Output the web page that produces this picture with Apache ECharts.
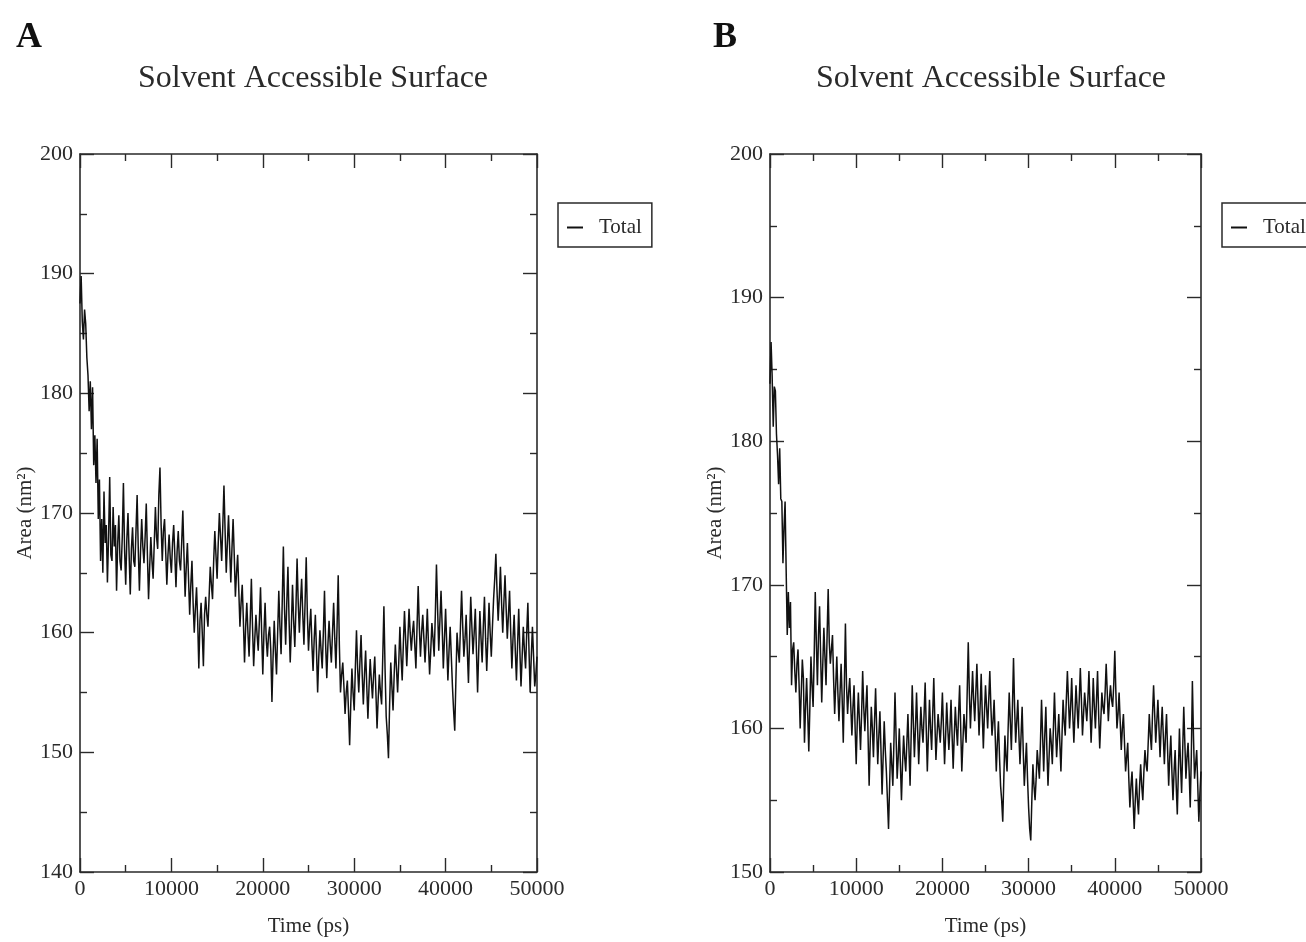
<!DOCTYPE html>
<html>
<head>
<meta charset="utf-8">
<script src="https://cdn.jsdelivr.net/npm/echarts@6/dist/echarts.min.js"></script>
<style>
html,body{margin:0;padding:0;background:#fff;}
#chart{width:1306px;height:942px;}
</style>
</head>
<body>
<div id="chart"></div>
<script>
// ---- data ----
const titleText = 'Solvent Accessible Surface';
const panelLabels = ['A', 'B'];
const seriesName = 'Total';
const xAxisName = 'Time (ps)';
const yAxisName = 'Area (nm²)';
const timeStep = 125; // ps between samples
const xTicks = [0, 10000, 20000, 30000, 40000, 50000];
const yTicksA = [140, 150, 160, 170, 180, 190, 200];
const yTicksB = [150, 160, 170, 180, 190, 200];

// Panel A, one row per 1000 ps (8 samples)
const areaA = [
187.5,189.8,186.0,184.5,187.0,185.8,183.0,181.5,
178.5,181.0,177.0,180.5,174.0,176.5,172.5,176.2,
169.5,172.8,166.0,169.5,165.0,171.8,167.5,169.0,
164.2,168.0,173.0,166.5,166.0,170.5,167.2,169.0,
163.5,167.5,169.8,166.0,165.2,168.0,172.5,167.0,
164.0,167.8,170.0,166.5,163.2,167.0,168.8,166.0,
165.5,168.5,171.5,167.0,163.5,166.8,169.5,167.2,
165.8,168.0,170.8,166.5,162.8,165.5,168.0,166.0,
164.5,167.5,170.5,168.0,167.0,171.5,173.8,169.0,
166.0,168.5,169.5,166.8,164.0,166.5,168.2,166.2,
165.0,167.5,169.0,166.5,163.8,166.8,168.5,166.0,
165.2,167.5,170.2,166.5,163.0,165.5,167.5,164.5,
161.5,164.0,166.0,162.5,160.0,162.0,163.8,161.0,
157.0,161.0,162.5,160.0,157.2,161.5,163.0,161.5,
160.5,163.0,165.5,164.0,162.8,166.0,168.5,166.5,
164.5,167.5,170.0,168.0,166.0,169.0,172.3,168.5,
165.0,167.5,169.8,167.0,164.2,167.0,169.5,166.5,
163.0,165.0,166.5,163.5,160.5,162.5,164.0,161.0,
157.5,160.5,162.5,160.0,158.0,161.0,164.5,160.5,
157.2,159.5,161.5,159.8,158.5,161.0,163.8,160.0,
156.5,160.0,162.5,159.5,158.0,159.8,160.5,158.5,
154.2,158.0,161.0,158.5,156.5,160.0,163.5,160.5,
158.2,162.5,167.2,162.0,159.0,162.5,165.5,161.0,
157.5,160.5,164.0,161.0,158.8,162.0,166.2,162.5,
160.0,162.5,164.5,161.5,159.0,162.5,166.3,161.5,
158.5,160.5,162.0,159.0,156.8,159.5,161.5,158.5,
155.0,158.0,160.2,158.5,157.0,160.0,163.5,159.0,
156.2,159.0,161.0,159.0,157.5,160.0,162.5,159.5,
157.0,160.5,164.8,159.0,155.0,156.5,157.5,155.5,
153.2,155.0,156.0,153.5,150.6,154.0,157.0,155.0,
153.5,157.0,160.2,157.0,155.0,157.5,159.8,156.5,
154.0,156.5,158.5,155.5,152.8,155.5,157.8,156.0,
154.5,156.5,158.0,155.0,152.0,154.5,156.5,155.0,
154.0,158.0,162.2,157.0,153.0,151.5,149.5,154.0,
157.5,155.5,153.5,156.5,159.0,157.0,155.0,157.5,
160.5,158.0,156.0,159.0,161.8,159.5,157.2,159.5,
162.0,160.0,158.5,160.0,161.0,159.0,157.0,160.5,
163.9,160.5,158.0,160.0,161.5,159.5,157.5,159.5,
162.0,159.0,156.5,158.5,160.8,159.5,158.0,161.5,
165.7,162.0,158.5,161.0,163.5,160.5,157.0,159.5,
162.0,159.0,156.0,158.5,160.5,158.0,155.5,153.5,
151.8,156.0,160.0,158.5,157.5,160.5,163.5,160.5,
158.0,159.5,161.5,158.5,155.8,159.5,163.0,160.5,
158.2,160.0,162.0,158.5,155.0,158.5,161.8,159.5,
157.5,160.5,163.0,159.5,156.8,159.5,162.5,160.0,
158.0,160.5,162.8,164.5,166.6,163.5,161.0,163.0,
165.5,162.5,160.0,162.5,164.8,162.0,159.5,161.5,
163.5,160.0,157.0,159.5,161.5,158.5,156.0,159.0,
162.0,158.5,155.5,158.0,160.5,158.5,157.0,160.0,
162.5,158.5,155.0,158.0,160.5,158.0,155.5,156.5,
158.0
];

// Panel B, one row per 1000 ps (8 samples)
const areaB = [
184.0,186.9,184.5,181.0,183.8,183.5,180.5,179.0,
177.0,179.5,176.0,175.8,171.5,174.0,175.8,171.0,
166.5,169.5,167.0,168.8,163.0,165.5,166.0,164.0,
162.5,164.5,165.5,163.0,160.0,162.5,164.8,163.5,
159.0,161.5,163.5,161.0,158.4,161.5,165.0,163.0,
161.5,165.0,169.5,166.0,163.0,166.5,168.5,165.0,
161.8,164.5,167.0,165.0,163.0,166.5,169.7,166.0,
164.5,165.5,166.5,163.5,161.0,163.0,165.0,162.5,
160.5,162.5,164.5,162.0,159.0,163.0,167.3,163.0,
161.0,162.5,163.5,161.5,159.5,161.5,163.0,160.0,
157.5,160.5,162.5,160.5,158.5,161.0,164.0,161.5,
159.8,161.5,163.0,159.5,156.0,159.0,161.5,160.0,
158.0,160.5,162.8,160.0,157.5,159.5,161.2,158.5,
155.4,158.0,160.5,158.5,157.0,155.0,153.0,156.0,
159.0,157.5,156.0,159.0,162.5,159.5,156.5,158.0,
160.0,157.5,155.0,157.5,159.5,158.0,157.0,159.0,
161.0,158.5,156.0,159.5,163.0,160.5,158.0,160.0,
162.5,160.0,157.5,159.5,161.5,160.0,159.0,161.0,
163.2,160.0,157.0,159.5,162.0,160.0,158.5,161.0,
163.5,160.5,157.8,159.5,161.0,160.0,159.0,160.5,
162.5,160.0,157.5,159.5,161.8,160.0,158.5,160.0,
162.0,159.5,157.2,159.5,161.5,160.0,158.8,161.0,
163.0,160.0,157.0,159.0,161.0,160.0,159.0,162.5,
166.0,162.5,160.0,162.0,164.0,162.0,160.5,162.5,
164.5,162.0,159.5,161.5,163.8,161.0,158.6,161.0,
163.0,161.5,160.0,162.0,164.0,161.5,159.5,160.5,
162.0,159.5,157.0,159.0,160.5,158.0,156.0,155.0,
153.5,156.5,159.5,158.0,157.0,160.0,162.5,160.5,
158.5,161.5,164.9,161.5,159.0,160.5,162.0,159.5,
157.5,159.5,161.5,158.5,156.0,157.5,159.0,156.5,
154.5,153.0,152.2,155.0,157.5,156.0,155.0,156.5,
158.5,157.5,156.5,159.0,162.0,159.5,157.0,159.5,
161.5,158.5,156.0,158.0,160.0,159.0,157.5,160.0,
162.5,160.0,158.0,159.5,161.0,159.0,157.0,159.5,
162.0,160.5,159.5,162.0,164.0,162.0,160.0,161.5,
163.5,161.0,159.0,161.0,163.0,161.5,160.0,162.0,
164.2,162.0,159.5,161.0,162.5,161.5,160.5,162.0,
164.0,161.5,159.0,161.0,163.5,161.5,160.0,162.0,
164.0,161.0,158.6,160.5,162.5,161.5,161.0,162.5,
164.5,162.5,160.5,162.0,163.0,162.0,161.5,163.0,
165.4,162.5,160.0,161.0,162.5,160.5,158.5,160.0,
161.0,159.0,157.0,158.0,159.0,156.5,154.5,156.0,
157.0,155.0,153.0,155.0,156.5,155.0,154.0,156.0,
157.5,156.0,155.0,157.0,158.5,157.5,157.0,159.0,
161.0,159.5,158.5,161.0,163.0,161.0,159.0,160.5,
162.0,160.0,158.0,160.0,161.5,159.5,157.5,159.5,
161.0,158.5,156.0,158.0,159.5,157.0,155.0,157.0,
158.5,156.0,154.0,157.0,160.0,157.5,155.5,158.5,
161.5,159.0,156.5,158.0,159.0,157.0,154.5,158.0,
163.3,159.5,156.5,157.5,158.5,156.0,153.5,155.5,
157.0
];

// ---- build chart ----
const FONT = '"Liberation Serif", "Times New Roman", serif';
const INK = '#2a2a2a';
const toPairs = arr => arr.map((v, i) => [i * timeStep, v]);

const grids = [
  {left: 80, top: 154, width: 457, height: 720},
  {left: 770, top: 154, width: 431, height: 720}
];

function xAx(gridIndex, pos, showLabel) {
  return {
    type: 'value', gridIndex, position: pos,
    min: xTicks[0], max: xTicks[xTicks.length - 1], interval: 10000,
    name: showLabel ? xAxisName : '',
    nameLocation: 'middle', nameGap: 44,
    nameTextStyle: {fontFamily: FONT, fontSize: 21, color: INK},
    axisLine: {show: true, onZero: false, lineStyle: {color: INK, width: 1.6}},
    axisTick: {show: true, inside: true, length: 14, lineStyle: {color: INK, width: 1.4}},
    minorTick: {show: true, splitNumber: 2, length: 7, lineStyle: {color: INK, width: 1.4}},
    axisLabel: {show: showLabel, fontFamily: FONT, fontSize: 22, color: INK, margin: 6,
                formatter: v => String(v)},
    splitLine: {show: false}
  };
}
function yAx(gridIndex, pos, showLabel, ticks, gap) {
  return {
    type: 'value', gridIndex, position: pos,
    min: ticks[0], max: ticks[ticks.length - 1], interval: 10,
    name: showLabel ? yAxisName : '',
    nameLocation: 'middle', nameGap: gap, nameRotate: 90,
    nameTextStyle: {fontFamily: FONT, fontSize: 21, color: INK},
    axisLine: {show: true, onZero: false, lineStyle: {color: INK, width: 1.6}},
    axisTick: {show: true, inside: true, length: 14, lineStyle: {color: INK, width: 1.4}},
    minorTick: {show: true, splitNumber: 2, length: 7, lineStyle: {color: INK, width: 1.4}},
    axisLabel: {show: showLabel, fontFamily: FONT, fontSize: 22, color: INK, margin: 7,
                formatter: v => String(v)},
    splitLine: {show: false}
  };
}

const legendCommon = {
  orient: 'vertical', top: 203,
  padding: [14, 10, 9, 9],
  borderColor: INK, borderWidth: 1.5, borderRadius: 0,
  icon: 'rect', itemWidth: 16, itemHeight: 2,
  textStyle: {fontFamily: FONT, fontSize: 21, color: INK, padding: [0, 0, 0, 11]},
  data: [seriesName]
};

const option = {
  backgroundColor: '#ffffff',
  animation: false,
  title: [
    {text: panelLabels[0], left: 11, top: 15, textStyle: {fontFamily: FONT, fontSize: 36, fontWeight: 'bold', color: '#111'}},
    {text: panelLabels[1], left: 708, top: 15, textStyle: {fontFamily: FONT, fontSize: 36, fontWeight: 'bold', color: '#111'}},
    {text: titleText, left: 308, textAlign: 'center', top: 58, textStyle: {fontFamily: FONT, fontSize: 32, fontWeight: 'normal', color: INK}},
    {text: titleText, left: 986, textAlign: 'center', top: 58, textStyle: {fontFamily: FONT, fontSize: 32, fontWeight: 'normal', color: INK}}
  ],
  legend: [
    Object.assign({left: 558}, legendCommon),
    Object.assign({left: 1222}, legendCommon)
  ],
  grid: grids,
  xAxis: [xAx(0, 'bottom', true), xAx(0, 'top', false), xAx(1, 'bottom', true), xAx(1, 'top', false)],
  yAxis: [yAx(0, 'left', true, yTicksA, 44), yAx(0, 'right', false, yTicksA, 44),
          yAx(1, 'left', true, yTicksB, 41), yAx(1, 'right', false, yTicksB, 41)],
  series: [
    {name: seriesName, type: 'line', xAxisIndex: 0, yAxisIndex: 0, data: toPairs(areaA),
     showSymbol: false, symbol: 'none', sampling: 'none', lineStyle: {color: '#111', width: 1.5}, itemStyle: {color: '#111'}},
    {name: seriesName, type: 'line', xAxisIndex: 2, yAxisIndex: 2, data: toPairs(areaB),
     showSymbol: false, symbol: 'none', sampling: 'none', lineStyle: {color: '#111', width: 1.5}, itemStyle: {color: '#111'}}
  ]
};

const chart = echarts.init(document.getElementById('chart'), null, {renderer: 'canvas'});
chart.setOption(option);
</script>
</body>
</html>
